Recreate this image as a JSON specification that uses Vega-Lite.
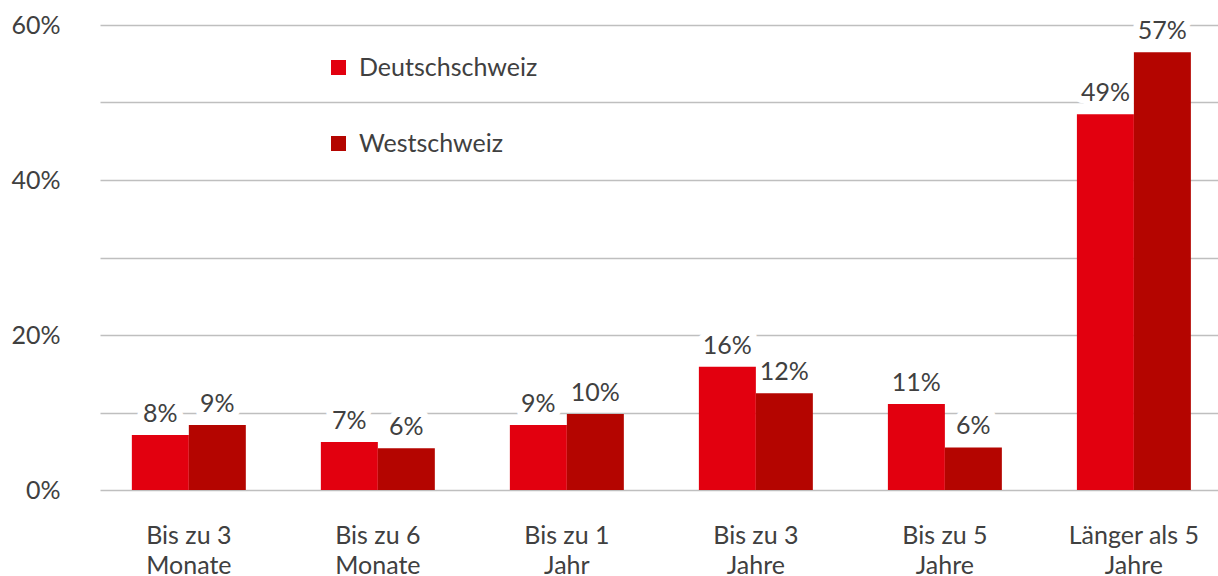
{
  "$schema": "https://vega.github.io/schema/vega-lite/v6.json",
  "width": 1118,
  "height": 465,
  "autosize": {"type": "none"},
  "padding": {"left": 100, "top": 25, "right": 0, "bottom": 86},
  "background": "white",
  "config": {
    "view": {"stroke": null},
    "font": "Lato",
    "text": {"font": "Lato"}
  },
  "data": {
    "values": [
      {"kategorie": "Bis zu 3\nMonate", "region": "Deutschschweiz", "wert": 7.1, "label": "8%"},
      {"kategorie": "Bis zu 3\nMonate", "region": "Westschweiz", "wert": 8.4, "label": "9%"},
      {"kategorie": "Bis zu 6\nMonate", "region": "Deutschschweiz", "wert": 6.2, "label": "7%"},
      {"kategorie": "Bis zu 6\nMonate", "region": "Westschweiz", "wert": 5.4, "label": "6%"},
      {"kategorie": "Bis zu 1\nJahr", "region": "Deutschschweiz", "wert": 8.4, "label": "9%"},
      {"kategorie": "Bis zu 1\nJahr", "region": "Westschweiz", "wert": 9.8, "label": "10%"},
      {"kategorie": "Bis zu 3\nJahre", "region": "Deutschschweiz", "wert": 15.9, "label": "16%"},
      {"kategorie": "Bis zu 3\nJahre", "region": "Westschweiz", "wert": 12.5, "label": "12%"},
      {"kategorie": "Bis zu 5\nJahre", "region": "Deutschschweiz", "wert": 11.1, "label": "11%"},
      {"kategorie": "Bis zu 5\nJahre", "region": "Westschweiz", "wert": 5.5, "label": "6%"},
      {"kategorie": "Länger als 5\nJahre", "region": "Deutschschweiz", "wert": 48.5, "label": "49%"},
      {"kategorie": "Länger als 5\nJahre", "region": "Westschweiz", "wert": 56.5, "label": "57%"}
    ]
  },
  "encoding": {
    "x": {
      "field": "kategorie",
      "type": "nominal",
      "sort": null,
      "scale": {"paddingInner": 0.397, "paddingOuter": 0.156, "align": 0.54},
      "axis": {
        "title": null,
        "domain": false,
        "ticks": false,
        "labelAngle": 0,
        "labelExpr": "split(datum.value, '\\n')",
        "labelFont": "Lato",
        "labelFontSize": 25,
        "labelColor": "#404040",
        "labelPadding": 53,
        "labelLineHeight": 30,
        "labelBaseline": "alphabetic"
      }
    },
    "xOffset": {
      "field": "region",
      "type": "nominal",
      "sort": ["Deutschschweiz", "Westschweiz"],
      "scale": {"paddingInner": 0, "paddingOuter": 0}
    },
    "y": {
      "field": "wert",
      "type": "quantitative",
      "scale": {"domain": [0, 60], "nice": false},
      "axis": {
        "title": null,
        "domain": false,
        "ticks": false,
        "values": [0, 10, 20, 30, 40, 50, 60],
        "labelExpr": "datum.value % 20 === 0 ? datum.value + '%' : ''",
        "labelFont": "Lato",
        "labelFontSize": 25,
        "labelColor": "#404040",
        "labelPadding": 40,
        "gridColor": "#bfbfbf",
        "gridWidth": 1.3
      }
    }
  },
  "layer": [
    {
      "mark": {"type": "text", "baseline": "alphabetic", "dy": -13, "fontSize": 25, "font": "Lato", "color": "white", "stroke": "white", "strokeWidth": 14, "strokeJoin": "round"},
      "encoding": {"text": {"field": "label"}}
    },
    {
      "mark": {"type": "bar"},
      "encoding": {
        "color": {
          "field": "region",
          "type": "nominal",
          "sort": ["Deutschschweiz", "Westschweiz"],
          "scale": {"domain": ["Deutschschweiz", "Westschweiz"], "range": ["#e2000f", "#b40500"]},
          "legend": {
            "title": null,
            "orient": "none",
            "legendX": 226,
            "legendY": 30,
            "padding": 0,
            "symbolType": "square",
            "symbolSize": 225,
            "symbolStrokeWidth": 0,
            "labelFont": "Lato",
            "labelFontSize": 25,
            "labelColor": "#404040",
            "labelOffset": 8,
            "labelLimit": 400,
            "rowPadding": 50,
            "direction": "vertical"
          }
        }
      }
    },
    {
      "mark": {"type": "text", "baseline": "alphabetic", "dy": -13, "fontSize": 25, "font": "Lato", "color": "#404040"},
      "encoding": {"text": {"field": "label"}}
    }
  ]
}
